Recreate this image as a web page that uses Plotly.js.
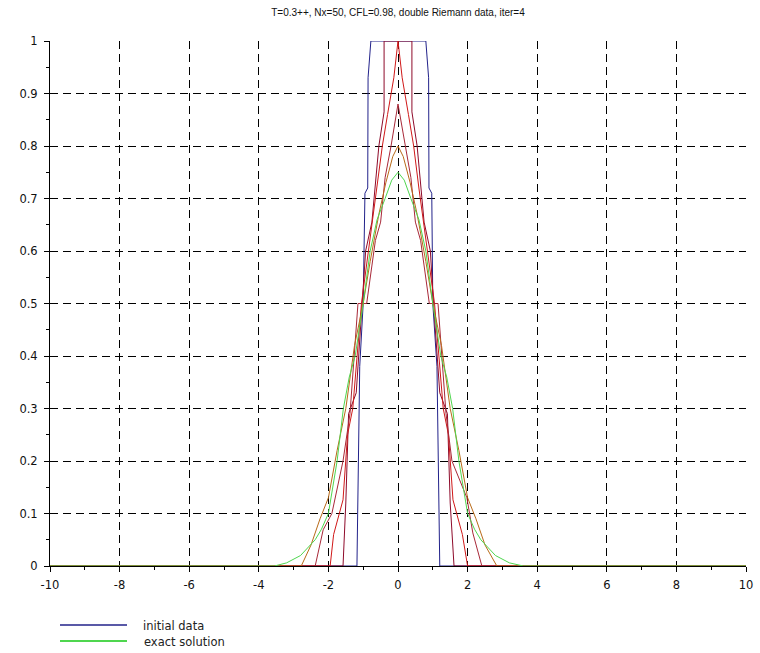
<!DOCTYPE html>
<html>
<head>
<meta charset="utf-8">
<script src="https://cdn.plot.ly/plotly-3.0.1.min.js"></script>
<style>html,body{margin:0;padding:0;background:#fff;}#chart{width:760px;height:653px;}</style>
</head>
<body>
<div id="chart"></div>
<script>
// ---- data ----
const chartTitle = "T=0.3++, Nx=50, CFL=0.98, double Riemann data, iter=4";

const initX = [-10, -1.18, -1.1, -1.0, -0.95, -0.87, -0.86, -0.78, 0.8, 0.88, 0.89, 0.97, 1.0, 1.12, 1.2, 10];
const initY = [0, 0, 0.38, 0.5, 0.71, 0.72, 0.93, 1, 1, 0.93, 0.72, 0.71, 0.5, 0.38, 0, 0];

const exactX = [-10, -3.55, -3.2, -2.8, -2.38, -2.2, -2.0, -1.75, -1.57, -1.4, -1.23, -1.0, -0.8, -0.6, -0.37, -0.18, 0, 0.18, 0.37, 0.6, 0.8, 1.0, 1.23, 1.4, 1.57, 1.75, 2.0, 2.2, 2.38, 2.8, 3.2, 3.6, 10];
const exactY = [0, 0, 0.006, 0.02, 0.05, 0.07, 0.1, 0.2, 0.3, 0.36, 0.4, 0.5, 0.6, 0.66, 0.7, 0.735, 0.75, 0.735, 0.7, 0.66, 0.6, 0.5, 0.4, 0.36, 0.3, 0.2, 0.1, 0.07, 0.05, 0.02, 0.006, 0, 0];

const iter1X = [-10, -1.58, -1.5, -1.42, -1.2, -1.02, -0.93, -0.75, -0.55, -0.4, -0.4, 0.4, 0.4, 0.55, 0.75, 0.93, 1.02, 1.2, 1.42, 1.5, 1.61, 10];
const iter1Y = [0, 0, 0.12, 0.29, 0.33, 0.5, 0.6, 0.655, 0.8, 0.865, 1, 1, 0.865, 0.8, 0.655, 0.6, 0.5, 0.33, 0.29, 0.12, 0, 0];

const iter2X = [-10, -1.95, -1.85, -1.58, -1.45, -1.3, -1.05, -0.85, -0.6, -0.45, -0.3, -0.12, 0, 0.12, 0.3, 0.45, 0.6, 0.85, 1.05, 1.3, 1.45, 1.58, 1.85, 2.0, 10];
const iter2Y = [0, 0, 0.06, 0.126, 0.25, 0.3, 0.5, 0.6, 0.72, 0.8, 0.86, 0.93, 1, 0.93, 0.86, 0.8, 0.72, 0.6, 0.5, 0.3, 0.25, 0.126, 0.06, 0, 0];

const iter3X = [-10, -2.38, -2.15, -1.9, -1.58, -1.38, -1.15, -0.9, -0.65, -0.5, -0.37, -0.2, 0, 0.2, 0.37, 0.5, 0.65, 0.9, 1.15, 1.38, 1.55, 1.98, 2.15, 2.41, 10];
const iter3Y = [0, 0, 0.069, 0.1, 0.2, 0.29, 0.5, 0.5, 0.62, 0.655, 0.74, 0.8, 0.88, 0.8, 0.74, 0.655, 0.62, 0.5, 0.5, 0.29, 0.2, 0.13, 0.063, 0, 0];

const iter4X = [-10, -2.78, -2.5, -2.24, -2.0, -1.75, -1.5, -1.25, -1.0, -0.8, -0.55, -0.35, -0.15, 0, 0.15, 0.35, 0.55, 0.8, 1.0, 1.25, 1.5, 1.75, 2.0, 2.24, 2.5, 2.84, 10];
const iter4Y = [0, 0, 0.04, 0.09, 0.13, 0.22, 0.3, 0.42, 0.5, 0.58, 0.67, 0.73, 0.78, 0.8, 0.78, 0.73, 0.67, 0.58, 0.5, 0.42, 0.3, 0.22, 0.13, 0.09, 0.04, 0, 0];

const xTickVals = [-10, -8, -6, -4, -2, 0, 2, 4, 6, 8, 10];
const xTickText = ["-10", "-8", "-6", "-4", "-2", "0", "2", "4", "6", "8", "10"];
const yTickVals = [0, 0.1, 0.2, 0.3, 0.4, 0.5, 0.6, 0.7, 0.8, 0.9, 1];
const yTickText = ["0", "0.1", "0.2", "0.3", "0.4", "0.5", "0.6", "0.7", "0.8", "0.9", "1"];
const legendLabels = ["initial data", "exact solution"];

// ---- styles ----
const blue = "#22228a";
const green = "#4fd64f";
const font = "Liberation Sans, Arial, Helvetica, sans-serif";
const wideFont = "DejaVu Sans, Verdana, sans-serif";

const traces = [
  {x: initX, y: initY, name: legendLabels[0], mode: "lines", line: {color: blue, width: 1}},
  {x: iter1X, y: iter1Y, name: "iter 1", mode: "lines", line: {color: "#8e0a2a", width: 1}},
  {x: iter2X, y: iter2Y, name: "iter 2", mode: "lines", line: {color: "#d01818", width: 1}},
  {x: iter3X, y: iter3Y, name: "iter 3", mode: "lines", line: {color: "#a82838", width: 1}},
  {x: iter4X, y: iter4Y, name: "iter 4", mode: "lines", line: {color: "#b86a18", width: 1}},
  {x: exactX, y: exactY, name: legendLabels[1], mode: "lines", line: {color: green, width: 1}}
];
traces.forEach(t => { t.showlegend = false; t.hoverinfo = "skip"; });

const L = 50, T = 41, R = 14, B = 87, W = 760, H = 653;
const pw = W - L - R, ph = H - T - B;
const px = v => (v - L) / pw;       // page pixel -> paper x
const py = v => (H - B - v) / ph;   // page pixel -> paper y

const axisCommon = {
  showline: true, linecolor: "#000", linewidth: 1,
  ticks: "outside", ticklen: 5, tickcolor: "#000", tickwidth: 1,
  showgrid: true, gridcolor: "#000", gridwidth: 1, griddash: "8px,5px",
  zeroline: false, tickfont: {family: wideFont, size: 11.5, color: "#111"},
  fixedrange: true
};

const layout = {
  width: W, height: H,
  margin: {l: L, r: R, t: T, b: B},
  paper_bgcolor: "#fff", plot_bgcolor: "#fff",
  showlegend: false,
  title: {text: chartTitle, font: {family: font, size: 10, color: "#111"},
          xref: "paper", x: 0.5, xanchor: "center", yref: "container", y: 1 - 12 / H, yanchor: "middle"},
  xaxis: Object.assign({}, axisCommon, {
    range: [-10, 10], tickvals: xTickVals, ticktext: xTickText, ticklabelstandoff: 3,
    minor: {dtick: 1, ticklen: 3, tickcolor: "#000", ticks: "outside", showgrid: false}
  }),
  yaxis: Object.assign({}, axisCommon, {
    range: [0, 1], tickvals: yTickVals, ticktext: yTickText, ticklabelstandoff: 4,
    minor: {dtick: 0.05, ticklen: 3, tickcolor: "#000", ticks: "outside", showgrid: false}
  }),
  shapes: [
    {type: "line", xref: "paper", yref: "paper", x0: px(60), x1: px(127), y0: py(625), y1: py(625), line: {color: blue, width: 1.5}},
    {type: "line", xref: "paper", yref: "paper", x0: px(60), x1: px(127), y0: py(641), y1: py(641), line: {color: green, width: 2}}
  ],
  annotations: [
    {xref: "paper", yref: "paper", x: px(141), y: py(626), xanchor: "left", yanchor: "middle", showarrow: false,
     text: legendLabels[0], font: {family: wideFont, size: 11.5, color: "#222"}},
    {xref: "paper", yref: "paper", x: px(142), y: py(642), xanchor: "left", yanchor: "middle", showarrow: false,
     text: legendLabels[1], font: {family: wideFont, size: 11.5, color: "#222"}}
  ]
};

Plotly.newPlot("chart", traces, layout, {staticPlot: true, displayModeBar: false});
</script>
</body>
</html>
